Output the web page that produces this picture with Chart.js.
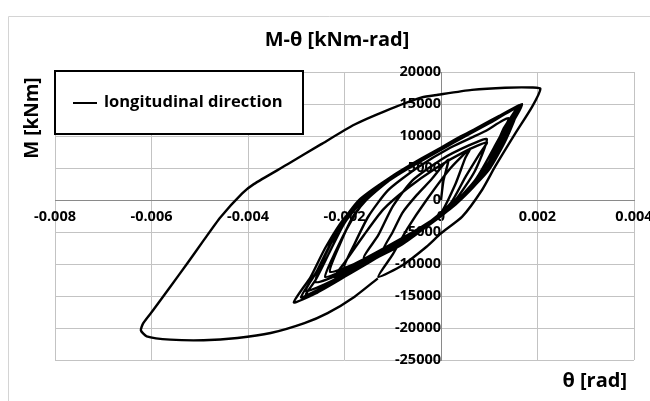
<!DOCTYPE html>
<html>
<head>
<meta charset="utf-8">
<script src="https://cdn.jsdelivr.net/npm/chart.js@4"></script>
<style>
  html, body { margin: 0; padding: 0; background: #fff; }
  #wrap { width: 650px; height: 401px; position: relative; }
</style>
</head>
<body>
<div id="wrap"><canvas id="chartMTheta"></canvas></div>
<script>
// ================= DATA =================
const xTicks = [-0.008, -0.006, -0.004, -0.002, 0, 0.002, 0.004];
const yTicks = [-25000, -20000, -15000, -10000, -5000, 0, 5000, 10000, 15000, 20000];

// rotation theta [rad]
const thetaRad = [
  0, 0.00005, 0.00015, -0.0002, -0.0005, -0.0008, -0.0010, -0.0012,
  -0.0008, -0.0003, 0.0002, 0.0005, 0.0008, 0.00095,
  0.0005, -0.0001, -0.0007, -0.0012, -0.0016, -0.0020, -0.0022,
  -0.0017, -0.0010, -0.0003, 0.0003, 0.0008, 0.0012, 0.0015, 0.00165,
  0.0012, 0.0005, -0.0002, -0.0009, -0.0015, -0.0020, -0.0024, -0.0027, -0.00305,
  -0.0026, -0.0020, -0.0013, -0.0006, 0.0000, 0.0005, 0.0010, 0.00135, 0.0016,
  0.0012, 0.0005, -0.0002, -0.0009, -0.0015, -0.0019, -0.0023, -0.0026, -0.0029,
  -0.0025, -0.0019, -0.0012, -0.0005, 0.0001, 0.0006, 0.0011, 0.0014, 0.00168,
  0.0011, 0.0003, -0.0005, -0.0012, -0.0018, -0.0022, -0.0025, -0.0028,
  -0.0023, -0.0016, -0.0009, -0.0002, 0.0004, 0.0009, 0.0013, 0.00163,
  0.0012, 0.0004, -0.0003, -0.0010, -0.0016, -0.0020, -0.0023, -0.0026, -0.0028,
  -0.0024, -0.0018, -0.0011, -0.0004, 0.0002, 0.0007, 0.0011, 0.00145, 0.00165,
  0.0012, 0.0004, -0.0004, -0.0011, -0.0017, -0.0021, -0.0024, -0.0026,
  -0.0021, -0.0014, -0.0007, -0.0001, 0.0005, 0.0010, 0.0013, 0.00158,
  0.0011, 0.0003, -0.0004, -0.0011, -0.0016, -0.0019, -0.0022, -0.0024,
  -0.0020, -0.0013, -0.0006, 0.0000, 0.0006, 0.0010, 0.0013, 0.0016,
  0.0010, 0.0002, -0.0006, -0.0013, -0.0018, -0.0021, -0.0023,
  -0.0018, -0.0011, -0.0004, 0.0002, 0.0007, 0.0011, 0.0014,
  0.0009, 0.0002, -0.0005, -0.0011, -0.0015, -0.0018, -0.0020,
  -0.0015, -0.0008, -0.0002, 0.0003, 0.0007, 0.00095,
  0.0006, 0.0000, -0.0006, -0.0010, -0.0013, -0.0016,
  -0.0011, -0.0005, 0.0000, 0.0003, 0.0005, 0.0006,
  0.0002, -0.0003, -0.0007, -0.0010, -0.0013,
  -0.0008, -0.0003, 0.0000, 0.00044, 0.00085, 0.00112, 0.00154, 0.00189, 0.00206,
  0.00189, 0.00133, 0.00064, -0.00006, -0.0004, -0.00117, -0.00179, -0.00249,
  -0.00318, -0.00388, -0.00412, -0.00457, -0.00492, -0.00526, -0.00561, -0.00596,
  -0.00617, -0.00622, -0.0061, -0.00561, -0.00492, -0.00422, -0.00353, -0.00283,
  -0.00235, -0.00179, -0.00131
];

// bending moment M [kNm]
const momentKNm = [
  0, 3000, 6300, 3200, 800, -2000, -5000, -7800,
  -6300, -3800, -500, 3500, 7200, 9000,
  7600, 5000, 1800, -1500, -5500, -9800, -12000,
  -10300, -7200, -4000, -700, 3200, 8000, 12800, 14900,
  13000, 10000, 7000, 3900, 700, -2800, -7500, -12000, -16000,
  -14600, -12000, -8900, -5600, -2500, 800, 4800, 9500, 14500,
  13100, 10200, 7100, 4000, 800, -2500, -7000, -11500, -15200,
  -13900, -11400, -8300, -5000, -1800, 1800, 6500, 11000, 15000,
  12500, 9300, 5900, 2600, -1200, -5600, -10200, -14200,
  -12800, -9700, -6600, -3400, 0, 4000, 9600, 14700,
  13000, 9900, 6800, 3500, 100, -3600, -8000, -12500, -14800,
  -13500, -11000, -8000, -4700, -1300, 2400, 7000, 12000, 14800,
  12900, 9800, 6500, 3300, 0, -4000, -8600, -12800,
  -11600, -8700, -5800, -2800, 1000, 6000, 11200, 14600,
  12600, 9300, 6200, 2900, -400, -3800, -8300, -12000,
  -11000, -8500, -5500, -2300, 1700, 6000, 10500, 14400,
  12000, 8700, 5300, 1900, -2300, -7000, -11200,
  -10000, -7200, -4200, -1000, 3000, 8200, 12800,
  10700, 8200, 5000, 1500, -2500, -7000, -10500,
  -9600, -6900, -3500, 0, 4500, 9500,
  8600, 6300, 3000, -1000, -5500, -9000,
  -7800, -5200, -2000, 2500, 6500, 8000,
  5000, 0, -4500, -8500, -12000,
  -10200, -7300, -5200, -2600, 1560, 5200, 10400, 14600, 17400,
  17580, 17550, 17200, 16440, 16030, 13860, 11790, 8690,
  5580, 2480, 1030, -2690, -6310, -9930, -13550, -17160,
  -19230, -20370, -21300, -21820, -21920, -21560, -20780, -19230,
  -17680, -15100, -12250
];

const seriesLabel = 'longitudinal direction';
const chartTitle = 'M-\u03b8 [kNm-rad]';
const xTitle = '\u03b8 [rad]';
const yTitle = 'M [kNm]';

// ================= DECORATION =================
const FONT = '"Open Sans", "Noto Sans", sans-serif';

const decor = {
  id: 'decor',
  beforeDraw(chart) {
    const ctx = chart.ctx;
    ctx.save();
    ctx.fillStyle = '#ffffff';
    ctx.fillRect(0, 0, chart.width, chart.height);
    ctx.strokeStyle = '#d4d4d4';
    ctx.lineWidth = 1;
    ctx.beginPath();
    ctx.moveTo(8.5, chart.height);
    ctx.lineTo(8.5, 16.5);
    ctx.lineTo(chart.width, 16.5);
    ctx.stroke();
    ctx.restore();
  },
  afterDraw(chart) {
    const ctx = chart.ctx;
    ctx.save();
    ctx.fillStyle = '#000';

    // title
    ctx.font = 'bold 20px ' + FONT;
    ctx.textAlign = 'center';
    ctx.textBaseline = 'middle';
    ctx.fillText(chartTitle, 337, 40);

    // x axis title
    ctx.font = 'bold 20px ' + FONT;
    ctx.textAlign = 'right';
    ctx.fillText(xTitle, 627, 381);

    // y axis title
    ctx.save();
    ctx.translate(33, 118);
    ctx.rotate(-Math.PI / 2);
    ctx.font = 'bold 19px ' + FONT;
    ctx.textAlign = 'center';
    ctx.fillText(yTitle, 0, 0);
    ctx.restore();

    // legend box
    ctx.fillStyle = '#fff';
    ctx.fillRect(55, 71, 248, 63);
    ctx.strokeStyle = '#000';
    ctx.lineWidth = 2;
    ctx.strokeRect(55, 71, 248, 63);
    ctx.beginPath();
    ctx.moveTo(73, 103);
    ctx.lineTo(97, 103);
    ctx.stroke();
    ctx.fillStyle = '#000';
    ctx.font = 'bold 16.5px ' + FONT;
    ctx.textAlign = 'left';
    ctx.fillText(seriesLabel, 104, 102);

    ctx.restore();
  }
};

// ================= M-THETA =================
const points = thetaRad.map((t, i) => ({ x: t, y: momentKNm[i] }));

const tickFont = { family: FONT, size: 14.5, weight: 'bold' };

new Chart(document.getElementById('chartMTheta'), {
  type: 'scatter',
  data: {
    datasets: [{
      label: seriesLabel,
      data: points,
      showLine: true,
      borderColor: '#000',
      borderWidth: 2.4,
      pointRadius: 0,
      tension: 0.2,
      fill: false
    }]
  },
  options: {
    responsive: true,
    maintainAspectRatio: false,
    animation: false,
    layout: { padding: { left: 55, top: 72, right: 16, bottom: 41 } },
    plugins: {
      legend: { display: false },
      title: { display: false },
      tooltip: { enabled: false }
    },
    scales: {
      x: {
        type: 'linear',
        position: { y: 0 },
        min: -0.008,
        max: 0.004,
        afterBuildTicks: s => { s.ticks = xTicks.map(v => ({ value: v })); },
        afterFit: s => { s.paddingLeft = 0; s.paddingRight = 0; },
        ticks: {
          font: tickFont,
          color: '#000',
          padding: 8,
          maxRotation: 0,
          autoSkip: false,
          callback: v => (v === 0 ? '0' : v.toFixed(3))
        },
        grid: { color: '#c3c3c3', lineWidth: 1, drawTicks: false },
        border: { color: '#8a8a8a', width: 1 }
      },
      y: {
        type: 'linear',
        position: { x: 0 },
        min: -25000,
        max: 20000,
        afterBuildTicks: s => { s.ticks = yTicks.map(v => ({ value: v })); },
        afterFit: s => { s.paddingTop = 0; s.paddingBottom = 0; },
        ticks: {
          font: tickFont,
          color: '#000',
          padding: 15,
          autoSkip: false,
          callback: v => String(v)
        },
        grid: { color: '#c3c3c3', lineWidth: 1, drawTicks: false },
        border: { color: '#8a8a8a', width: 1 }
      }
    }
  },
  plugins: [decor]
});
</script>
</body>
</html>
